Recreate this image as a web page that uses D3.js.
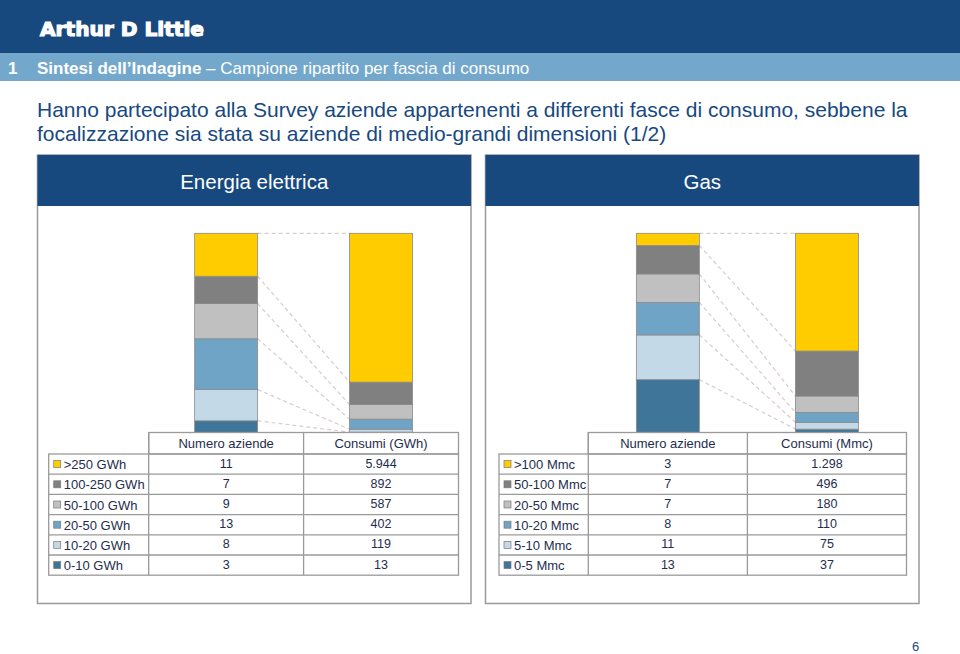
<!DOCTYPE html>
<html><head><meta charset="utf-8">
<script src="https://cdn.jsdelivr.net/npm/d3@7"></script>
<style>body{margin:0;background:#fff}svg{display:block;font-family:"Liberation Sans",Arial,sans-serif}</style>
</head><body><svg id="c" width="960" height="654"></svg>
<script>
// ---- data ----
const elecBands = [">250 GWh","100-250 GWh","50-100 GWh","20-50 GWh","10-20 GWh","0-10 GWh"];
const elecCompanies = [11,7,9,13,8,3];
const elecConsumption = [5944,892,587,402,119,13];
const elecConsLabels = ["5.944","892","587","402","119","13"];
const gasBands = [">100 Mmc","50-100 Mmc","20-50 Mmc","10-20 Mmc","5-10 Mmc","0-5 Mmc"];
const gasCompanies = [3,7,7,8,11,13];
const gasConsumption = [1298,496,180,110,75,37];
const gasConsLabels = ["1.298","496","180","110","75","37"];
const bandColors = ["#ffcc00","#808080","#c0c0c0","#6fa4c6","#c3d9e7","#3f7598"];

const svg = d3.select("#c");
const navy = "#17497f";

// header
svg.append("rect").attr("x",0).attr("y",0).attr("width",960).attr("height",53).attr("fill",navy);
svg.append("rect").attr("x",0).attr("y",53).attr("width",960).attr("height",28).attr("fill","#73a8cc");
svg.append("text").attr("x",40).attr("y",36).attr("fill","#fff").attr("stroke","#fff").attr("stroke-width",1.2)
  .attr("font-family","'DejaVu Sans', Lato").attr("font-weight","bold").attr("font-size",20)
  .attr("textLength",164).attr("lengthAdjust","spacingAndGlyphs").text("Arthur D Little");
svg.append("text").attr("x",8).attr("y",74).attr("fill","#fff").attr("font-size",17).attr("font-weight","bold").text("1");
const sub = svg.append("text").attr("x",37).attr("y",74).attr("font-size",17).attr("fill","#fff");
sub.append("tspan").attr("font-weight","bold").text("Sintesi dell\u2019Indagine");
sub.append("tspan").text(" \u2013 Campione ripartito per fascia di consumo");

// title
const title = ["Hanno partecipato alla Survey aziende appartenenti a differenti fasce di consumo, sebbene la",
               "focalizzazione sia stata su aziende di medio-grandi dimensioni (1/2)"];
svg.append("text").attr("x",37).attr("y",117).attr("fill",navy).attr("font-size",21).text(title[0]);
svg.append("text").attr("x",37).attr("y",141).attr("fill",navy).attr("font-size",21).text(title[1]);

// page number
svg.append("text").attr("x",912).attr("y",651).attr("fill",navy).attr("font-size",13).text("6");

function panel(cfg){
  const g = svg.append("g");
  const {x0,x1,name,bands,companies,cons,consLabels,colHead,labelLeft,colStart} = cfg;
  g.append("rect").attr("x",x0).attr("y",155).attr("width",x1-x0).attr("height",448.5)
    .attr("fill","#fff").attr("stroke","#9a9a9a").attr("stroke-width",1.5);
  g.append("rect").attr("x",x0).attr("y",155).attr("width",x1-x0).attr("height",51).attr("fill",navy);
  g.append("text").attr("x",(x0+x1)/2).attr("y",189).attr("text-anchor","middle").attr("fill","#fff")
    .attr("font-size",20.5).text(name);

  const cols = ["Numero aziende", colHead];
  const x = d3.scaleBand().domain(cols).range([colStart, x1-12.5]).paddingInner(0).paddingOuter(0);
  const bw = 63;
  const series = [companies, cons];
  const yTop = 233.3, yBot = 432.5;
  const stacks = series.map(vals=>{
    const total = d3.sum(vals);
    const y = d3.scaleLinear().domain([0,total]).range([yBot,yTop]);
    const rev = vals.map((v,i)=>({v,i})).reverse();
    let acc = 0;
    return rev.map(d=>{const s={i:d.i,y0:y(acc),y1:y(acc+d.v)}; acc+=d.v; return s;});
  });
  const xa = x(cols[0]) + x.bandwidth()/2 + bw/2, xb = x(cols[1]) + x.bandwidth()/2 - bw/2;
  stacks[0].forEach((s,k)=>{
    g.append("line").attr("x1",xa).attr("x2",xb).attr("y1",s.y1).attr("y2",stacks[1][k].y1)
      .attr("stroke","#d8cccc").attr("stroke-width",1.2).attr("stroke-dasharray","4,3");
  });
  stacks.forEach((st,j)=>{
    const cx = x(cols[j]) + x.bandwidth()/2;
    st.forEach(s=>{
      g.append("rect").attr("x",cx-bw/2).attr("y",s.y1).attr("width",bw).attr("height",s.y0-s.y1)
        .attr("fill",bandColors[s.i]).attr("stroke","#8a8a8a").attr("stroke-width",0.8);
    });
  });

  const rowTop = 454, rowH = 20.2, headTop = 432.5;
  const tl = "#9a9a9a";
  g.append("rect").attr("x",colStart).attr("y",headTop).attr("width",x1-12.5-colStart).attr("height",rowTop-headTop)
    .attr("fill","none").attr("stroke",tl).attr("stroke-width",1.3);
  g.append("rect").attr("x",labelLeft).attr("y",rowTop).attr("width",x1-12.5-labelLeft).attr("height",rowH*6)
    .attr("fill","none").attr("stroke",tl).attr("stroke-width",1.3);
  g.append("line").attr("x1",x(cols[1])).attr("x2",x(cols[1])).attr("y1",headTop).attr("y2",rowTop+rowH*6).attr("stroke",tl).attr("stroke-width",1.3);
  g.append("line").attr("x1",colStart).attr("x2",colStart).attr("y1",headTop).attr("y2",rowTop+rowH*6).attr("stroke",tl).attr("stroke-width",1.3);
  for(let r=1;r<6;r++){
    g.append("line").attr("x1",labelLeft).attr("x2",x1-12.5).attr("y1",rowTop+r*rowH).attr("y2",rowTop+r*rowH).attr("stroke",tl).attr("stroke-width",1.3);
  }
  cols.forEach(c=>{
    g.append("text").attr("x",x(c)+x.bandwidth()/2).attr("y",447.5).attr("text-anchor","middle")
      .attr("font-size",13).attr("fill","#1e2d4d").text(c);
  });
  bands.forEach((b,i)=>{
    const yc = rowTop + i*rowH + rowH/2;
    g.append("rect").attr("x",labelLeft+5).attr("y",yc-3.5).attr("width",7).attr("height",7)
      .attr("fill",bandColors[i]).attr("stroke","#7a7a7a").attr("stroke-width",0.7);
    g.append("text").attr("x",labelLeft+15).attr("y",yc+5).attr("font-size",13).attr("fill","#1e2d4d").text(b);
    g.append("text").attr("x",x(cols[0])+x.bandwidth()/2).attr("y",yc+3.5).attr("text-anchor","middle")
      .attr("font-size",12.5).attr("fill","#1e2d4d").text(companies[i]);
    g.append("text").attr("x",x(cols[1])+x.bandwidth()/2).attr("y",yc+3.5).attr("text-anchor","middle")
      .attr("font-size",12.5).attr("fill","#1e2d4d").text(consLabels[i]);
  });
}

panel({x0:37.5,x1:471,name:"Energia elettrica",bands:elecBands,companies:elecCompanies,cons:elecConsumption,
  consLabels:elecConsLabels,colHead:"Consumi (GWh)",labelLeft:48.7,colStart:148.7});
panel({x0:485.5,x1:919,name:"Gas",bands:gasBands,companies:gasCompanies,cons:gasConsumption,
  consLabels:gasConsLabels,colHead:"Consumi (Mmc)",labelLeft:499,colStart:588.3});
</script></body></html>
